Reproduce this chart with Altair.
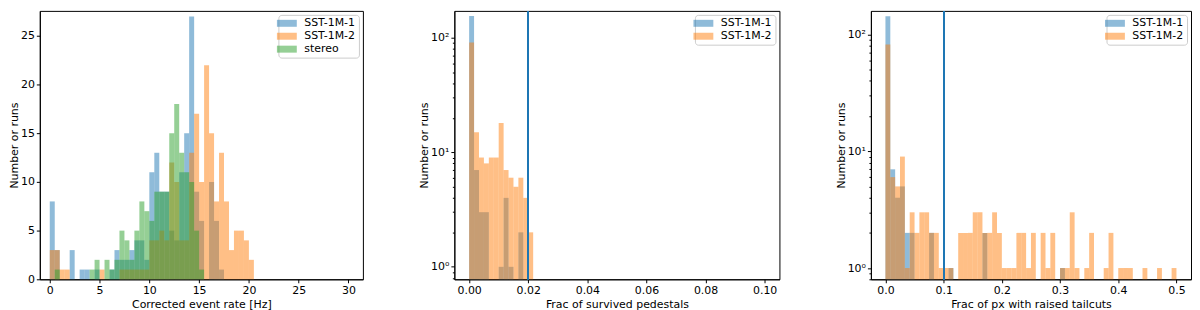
import altair as alt
import numpy as np
import pandas as pd

BLUE, ORANGE, GREEN = "#1f77b4", "#ff7f0e", "#2ca02c"
FONT = "DejaVu Sans"
FS = 11

NAMES = ["SST-1M-1", "SST-1M-2", "stereo"]

# ---- Panel 1: corrected event rate, 60 bins over [0, 30] Hz
rate_edges = np.linspace(0.0, 30.0, 61)
rate_sst1 = [8, 3, 0, 0, 3, 0, 1, 1, 0, 1,
             0, 0, 1, 3, 2, 2, 3, 4, 4, 2,
             11, 13, 9, 9, 5, 4, 11, 15, 27, 9,
             6, 0, 10, 6, 1]
rate_sst2 = [3, 3, 1, 1, 0, 0, 0, 0, 0, 0,
             1, 0, 0, 0, 1, 1, 1, 1, 1, 1,
             4, 4, 5, 4, 12, 10, 4, 4, 13, 17,
             10, 22, 15, 8, 13, 8, 3, 5, 5, 4,
             2]
rate_stereo = [0, 1, 0, 0, 0, 0, 0, 0, 1, 2,
               0, 2, 1, 2, 5, 4, 2, 5, 8, 7,
               6, 9, 9, 9, 15, 18, 13, 11, 10, 5,
               1]

# ---- Panel 2: fraction of survived pedestals, 60 bins over [0, 0.1]
ped_edges = np.linspace(0.0, 0.1, 61)
ped_sst1 = [155, 7, 3, 3, 0, 0, 1, 4, 1, 0, 2]
ped_sst2 = [91, 15, 9, 8, 9, 9, 18, 7, 6, 5, 6, 4, 2]
ped_cut = 0.02

# ---- Panel 3: fraction of pixels with raised tailcuts, 60 bins over [0, 0.5]
tail_edges = np.linspace(0.0, 0.5, 61)
tail_sst1 = [143, 7, 4, 5, 2, 2, 0, 0, 0, 2,
             0, 0, 0, 1, 0, 0, 0, 0, 0, 0,
             2, 0, 0, 0, 0, 0, 0, 0, 0, 0,
             0, 0, 0, 0, 0, 0, 1]
tail_sst2 = [82, 6, 5, 9, 1, 3, 2, 3, 3, 2,
             2, 1, 1, 1, 0, 2, 2, 2, 3, 3,
             2, 2, 3, 2, 1, 1, 1, 2, 2, 1,
             2, 0, 2, 1, 2, 0, 1, 1, 3, 1,
             0, 1, 2, 0, 0, 1, 2, 0, 1, 1,
             1, 0, 0, 1, 0, 0, 1, 0, 0, 1]
tail_cut = 0.1


def hist_frame(edges, series):
    rows = []
    for order, (name, counts) in enumerate(series):
        for i, c in enumerate(counts):
            if c > 0:
                rows.append({"series": name, "x0": float(edges[i]),
                             "x1": float(edges[i + 1]), "count": c,
                             "order": order})
    return pd.DataFrame(rows)


def legend():
    return alt.Legend(
        title=None, orient="top-right", offset=4, padding=3,
        strokeColor="#cccccc", fillColor="white", cornerRadius=3,
        symbolType="M-2,-0.7H2V0.7H-2Z", symbolSize=100,
        symbolOpacity=0.5, symbolStrokeWidth=0,
        labelFont=FONT, labelFontSize=FS, labelColor="black",
        labelOffset=12, rowPadding=1,
    )


LOG_TICKS = [0.8, 0.9, 1, 2, 3, 4, 5, 6, 7, 8, 9,
             10, 20, 30, 40, 50, 60, 70, 80, 90, 100]


def panel(df, names, colors, xdom, xvals, xfmt, xtitle, ydom, log, width,
          cut=None):
    if log:
        yscale = alt.Scale(type="log", domain=ydom, nice=False, clamp=True)
        yaxis = alt.Axis(
            values=LOG_TICKS, title="Number or runs", labelOverlap=False,
            labelExpr="datum.value == 1 ? '10⁰' : datum.value == 10 ? '10¹' : datum.value == 100 ? '10²' : ''",
            tickSize={"condition": {"test": "indexof([1, 10, 100], datum.value) >= 0", "value": 3.5}, "value": 2},
        )
        y2 = alt.Y2Datum(ydom[0])
    else:
        yscale = alt.Scale(domain=ydom, nice=False, zero=False)
        yaxis = alt.Axis(values=[0, 5, 10, 15, 20, 25], title="Number or runs")
        y2 = alt.Y2Datum(0)
    xscale = alt.Scale(domain=xdom, nice=False, zero=False)
    bars = alt.Chart(df).mark_bar(opacity=0.5).encode(
        x=alt.X("x0:Q", scale=xscale,
                axis=alt.Axis(values=xvals, format=xfmt, title=xtitle, labelFlush=False)),
        x2="x1:Q",
        y=alt.Y("count:Q", scale=yscale, axis=yaxis, stack=None),
        y2=y2,
        color=alt.Color("series:N", scale=alt.Scale(domain=names, range=colors),
                        legend=legend()),
        order=alt.Order("order:Q"),
    )
    layers = [bars]
    if cut is not None:
        layers.append(alt.Chart(df).mark_rule(color=BLUE, strokeWidth=1.3).encode(
            x=alt.XDatum(cut)))
    return alt.layer(*layers).properties(width=width, height=270)


p1 = panel(hist_frame(rate_edges, [(NAMES[0], rate_sst1), (NAMES[1], rate_sst2), (NAMES[2], rate_stereo)]),
           NAMES, [BLUE, ORANGE, GREEN], [-1.0, 31.45], [0, 5, 10, 15, 20, 25, 30], "d",
           "Corrected event rate [Hz]", [0, 27.58], False, 325)
p2 = panel(hist_frame(ped_edges, [(NAMES[0], ped_sst1), (NAMES[1], ped_sst2)]),
           NAMES[:2], [BLUE, ORANGE], [-0.005, 0.105], [0, 0.02, 0.04, 0.06, 0.08, 0.1], ".2f",
           "Frac of survived pedestals", [0.778, 171.8], True, 327, ped_cut)
p3 = panel(hist_frame(tail_edges, [(NAMES[0], tail_sst1), (NAMES[1], tail_sst2)]),
           NAMES[:2], [BLUE, ORANGE], [-0.025, 0.525], [0, 0.1, 0.2, 0.3, 0.4, 0.5], ".1f",
           "Frac of px with raised tailcuts", [0.801, 159.1], True, 322, tail_cut)

chart = alt.hconcat(p1, p2, p3, spacing=92).resolve_scale(
    x="independent", y="independent", color="independent"
).resolve_legend(color="independent").properties(
    bounds="flush", padding=0
).configure_axis(
    domainColor="black", tickColor="black", labelColor="black", titleColor="black",
    labelFont=FONT, titleFont=FONT, labelFontSize=FS, titleFontSize=FS,
    titleFontWeight="normal", grid=False, tickSize=3.5, labelPadding=2, titlePadding=3,
).configure_axisY(titlePadding=1).configure_view(stroke="black", strokeWidth=1)

chart.save("out.html", embed_options={"renderer": "svg", "actions": False})
